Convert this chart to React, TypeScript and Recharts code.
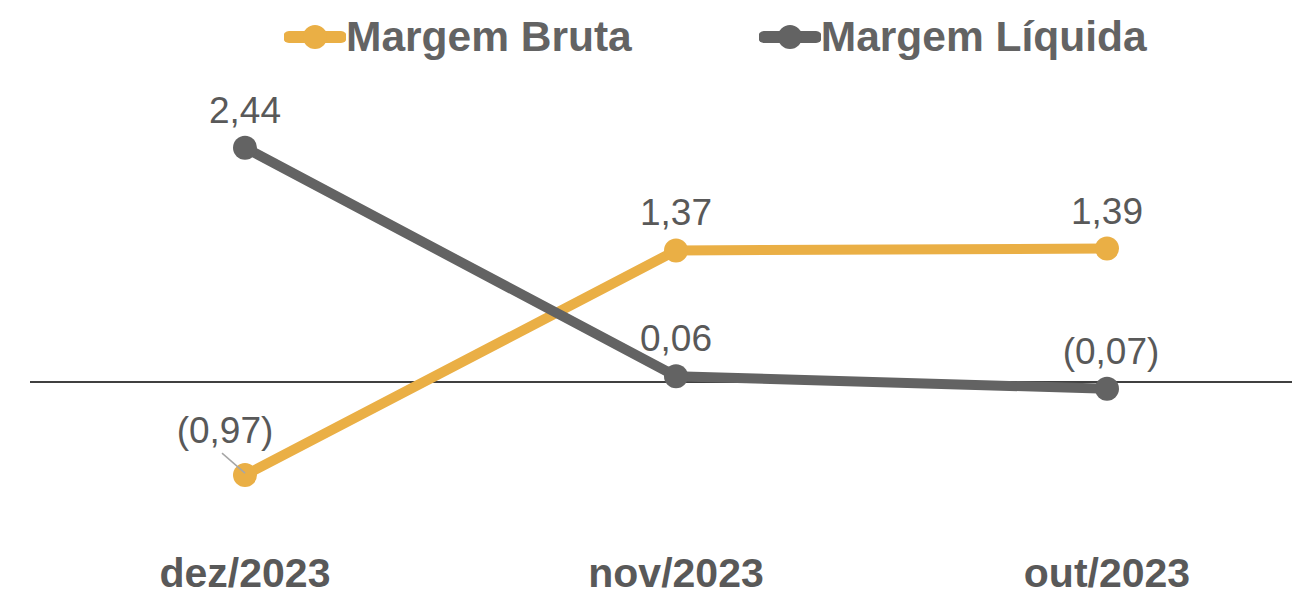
import React from "react";
import { LabelList, Line, LineChart, ReferenceLine, XAxis, YAxis } from "recharts";

const categories = ["dez/2023", "nov/2023", "out/2023"];
const margemBruta = [-0.97, 1.37, 1.39];
const margemLiquida = [2.44, 0.06, -0.07];

const ORANGE = "#EAAF45";
const GRAY = "#636363";
const TEXT = "#595959";
const FONT = "'Liberation Sans', Arial, sans-serif";

const rows = categories.map((cat, i) => ({
  cat,
  bruta: margemBruta[i],
  liquida: margemLiquida[i],
}));

const series = [
  { key: "bruta", name: "Margem Bruta", color: ORANGE },
  { key: "liquida", name: "Margem Líquida", color: GRAY },
];

function fmt(v: number) {
  const s = Math.abs(v).toFixed(2).replace(".", ",");
  return v < 0 ? `(${s})` : s;
}

function makeLabel(seriesKey: string) {
  return (props: any) => {
    const { x, y, value, index } = props;
    if (x == null || y == null) return null;
    // the first orange label sits to the left with a small leader line
    if (seriesKey === "bruta" && index === 0) {
      return (
        <g>
          <line x1={x - 23} y1={y - 22} x2={x} y2={y - 2} stroke="#A6A6A6" strokeWidth={1.5} />
          <text x={x - 20} y={y - 32} textAnchor="middle" fill={TEXT} fontSize={37} fontFamily={FONT}>
            {fmt(value)}
          </text>
        </g>
      );
    }
    const dx = seriesKey === "liquida" && index === 2 ? 4 : 0;
    return (
      <text x={x + dx} y={y - 25} textAnchor="middle" fill={TEXT} fontSize={37} fontFamily={FONT}>
        {fmt(value)}
      </text>
    );
  };
}

function Tick(props: any) {
  const { x, y, payload } = props;
  return (
    <text x={x} y={y + 53} textAnchor="middle" fill={TEXT} fontSize={41} fontWeight="bold" fontFamily={FONT}>
      {payload.value}
    </text>
  );
}

function LegendIcon({ color }: { color: string }) {
  return (
    <svg width={62} height={30} style={{ display: "block" }}>
      <line x1={5} y1={15} x2={57} y2={15} stroke={color} strokeWidth={12} strokeLinecap="round" />
      <circle cx={31} cy={15} r={12} fill={color} />
    </svg>
  );
}

export default function App() {
  return (
    <div
      style={{
        position: "absolute",
        left: 0,
        top: 0,
        width: 1292,
        height: 593,
        overflow: "hidden",
        background: "#fff",
      }}
    >
      <div
        style={{
          position: "absolute",
          top: 12,
          left: 284,
          display: "flex",
          alignItems: "center",
          fontFamily: FONT,
          fontWeight: "bold",
          fontSize: 42.5,
          color: GRAY,
        }}
      >
        {series.map((s, i) => (
          <div key={s.key} style={{ display: "flex", alignItems: "center", marginRight: i === 0 ? 127 : 0 }}>
            <LegendIcon color={s.color} />
            <span style={{ lineHeight: "50px" }}>{s.name}</span>
          </div>
        ))}
      </div>
      <LineChart width={1322} height={593} data={rows} margin={{ top: 94, right: 0, bottom: 0, left: 30 }}>
        <XAxis
          dataKey="cat"
          axisLine={false}
          tickLine={false}
          tick={<Tick />}
          interval={0}
          height={67}
          padding={{ left: 215, right: 215 }}
        />
        <YAxis hide domain={[-1.5, 3]} />
        <ReferenceLine y={0} stroke="#000" strokeWidth={1.5} />
        {series.map((s) => (
          <Line
            key={s.key}
            dataKey={s.key}
            name={s.name}
            stroke={s.color}
            strokeWidth={10}
            dot={{ r: 12, fill: s.color, stroke: s.color, strokeWidth: 0 }}
            activeDot={false}
            isAnimationActive={false}
          >
            <LabelList dataKey={s.key} content={makeLabel(s.key)} />
          </Line>
        ))}
      </LineChart>
    </div>
  );
}
